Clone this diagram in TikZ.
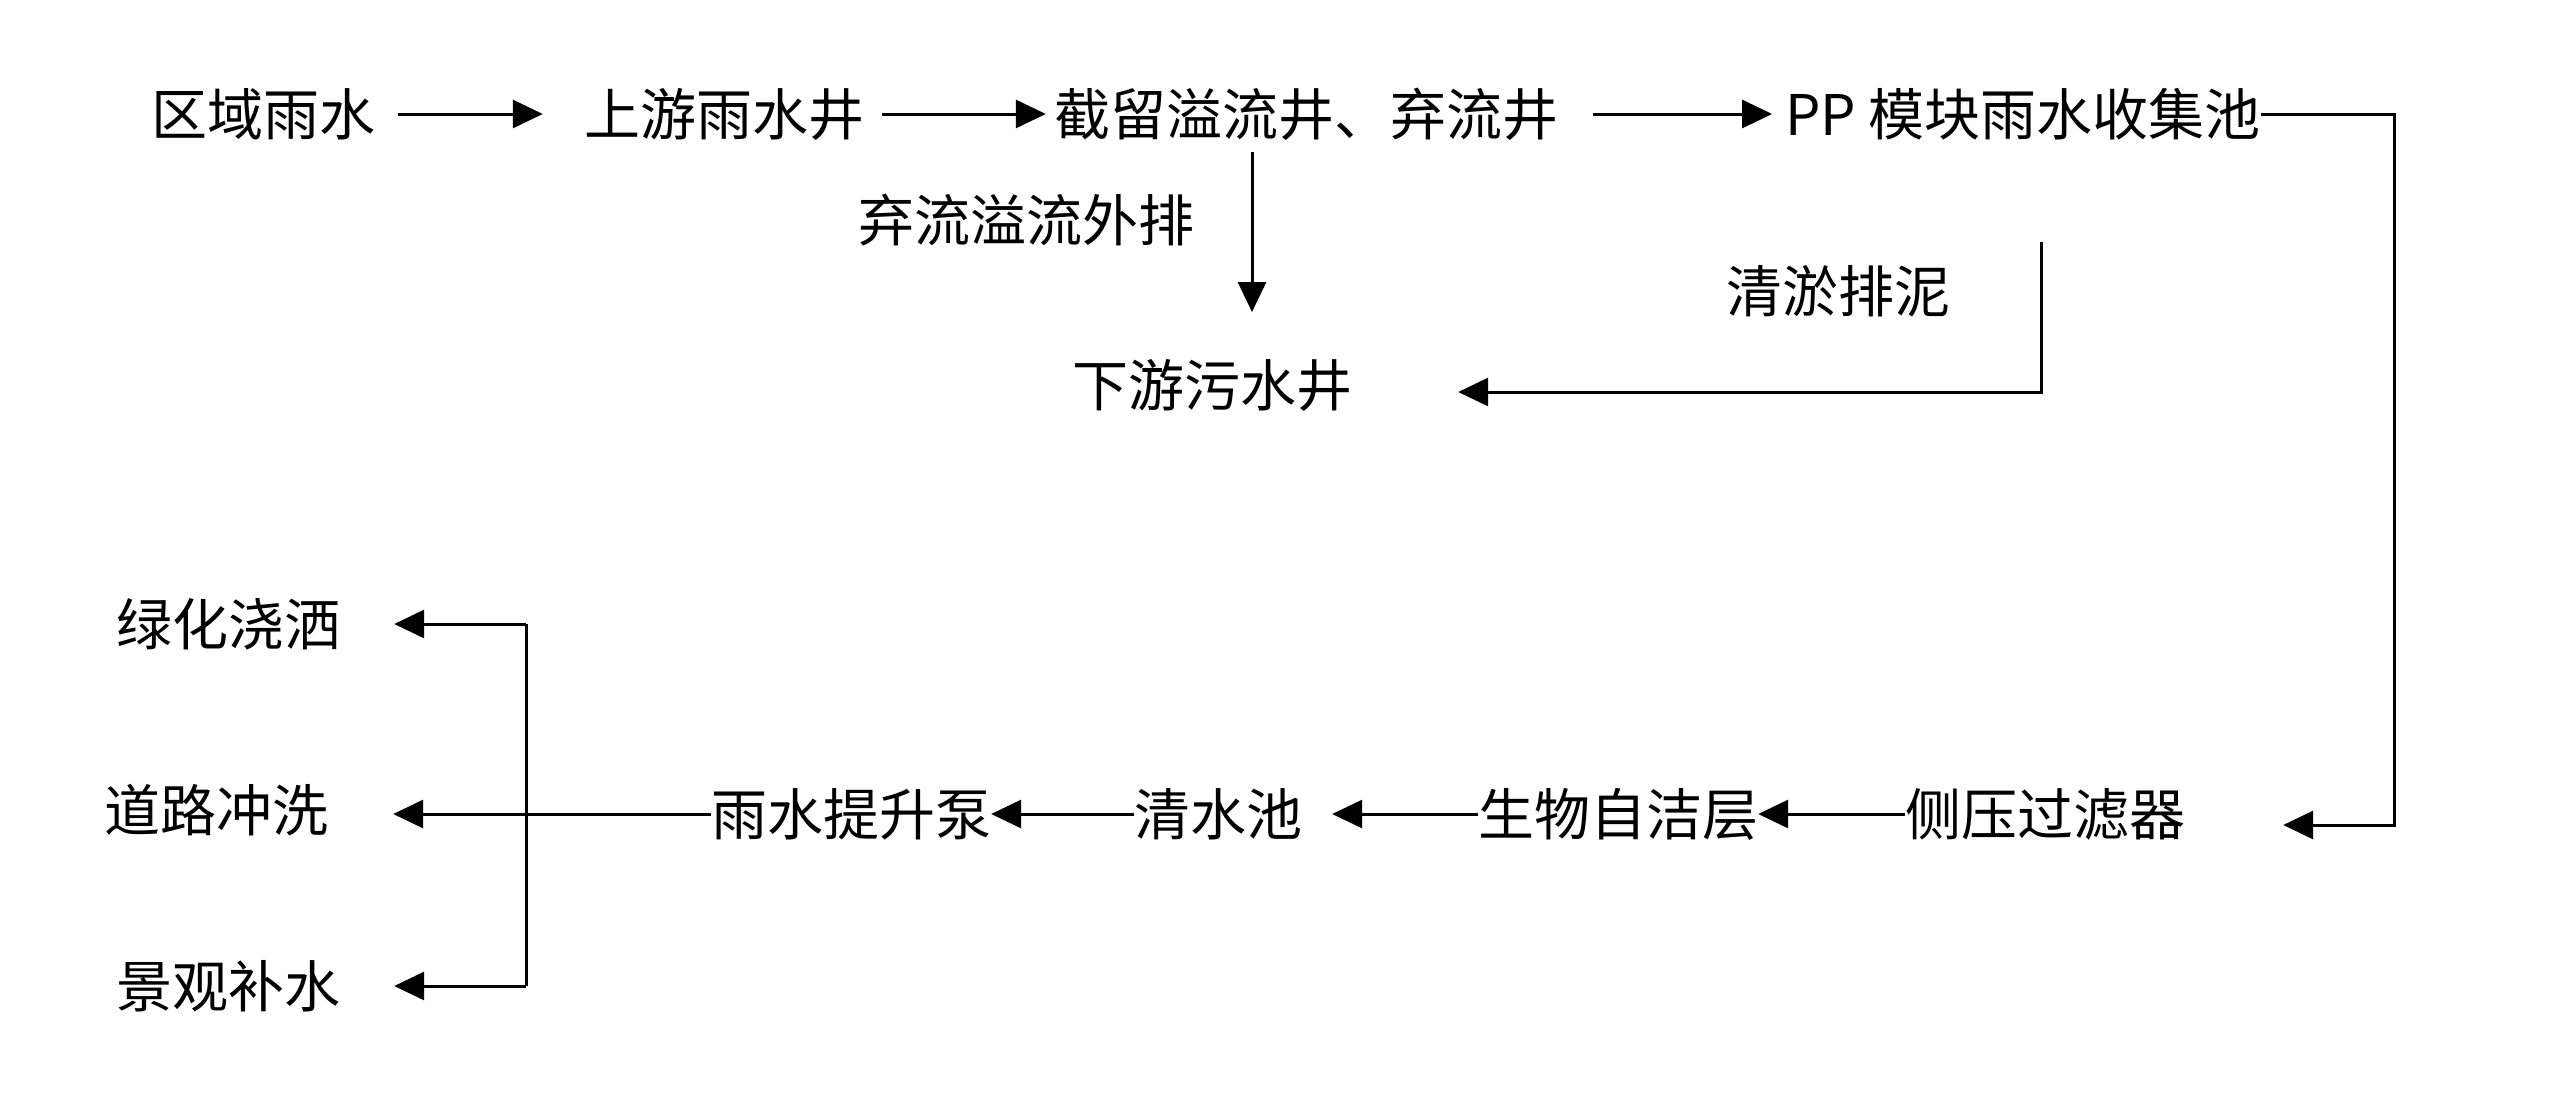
\documentclass[tikz,border=0pt]{standalone}
\usepackage{fontspec}
\setmainfont{Noto Sans CJK SC}
\usetikzlibrary{arrows.meta}
\begin{document}
\begin{tikzpicture}[x=1pt,y=-1pt,
  lbl/.style={inner sep=0pt,font=\fontsize{56}{60}\selectfont},
  flow/.style={line width=3pt,-{Triangle[length=30pt,width=28pt]}},
  plain/.style={line width=3pt}]
\useasboundingbox (0,0) rectangle (2560,1117);
\node[lbl] (n1) at (263,114) {区域雨水};
\node[lbl] (n2) at (724,114) {上游雨水井};
\node[lbl] (n3) at (1306,114) {截留溢流井、弃流井};
\node[lbl] (n4) at (2023,114) {PP 模块雨水收集池};
\node[lbl] (n5) at (2045,814) {侧压过滤器};
\node[lbl] (n6) at (1618,814) {生物自洁层};
\node[lbl] (n7) at (1218,814) {清水池};
\node[lbl] (n8) at (851,814) {雨水提升泵};
\node[lbl] (n9) at (228,624) {绿化浇洒};
\node[lbl] (n10) at (216,810) {道路冲洗};
\node[lbl] (n11) at (228,986) {景观补水};
\node[lbl] (n12) at (1212,385) {下游污水井};
\node[lbl] (t1) at (1026,220) {弃流溢流外排};
\node[lbl] (t2) at (1838,291) {清淤排泥};
\coordinate (c1) at (2394,114);
\coordinate (c2) at (2394,825);
\coordinate (c3) at (2041,242);
\coordinate (c4) at (2041,392);
\coordinate (c6) at (526,624);
\coordinate (c7) at (526,986);
\coordinate (c8) at (1252,152);
\coordinate (c9) at (1252,312);
\draw[flow] ([xshift=23pt]n1.east) -- ([xshift=-41pt]n2.west);
\draw[flow] ([xshift=18pt]n2.east) -- ([xshift=-8pt]n3.west);
\draw[flow] ([xshift=35pt]n3.east) -- ([xshift=-13pt]n4.west);
\draw[flow] (n4.east |- c1) -- (c1) -- (c2) -- ([xshift=98pt]n5.east |- c2);
\draw[flow] (n5.west) -- (n6.east);
\draw[flow] (n6.west) -- ([xshift=30pt]n7.east);
\draw[flow] (n7.west) -- (n8.east);
\draw[flow] (n8.west) -- ([xshift=65pt]n10.east |- n8.west);
\draw[plain] (c6) -- (c7);
\draw[flow] (c6) -- ([xshift=54pt]n9.east);
\draw[flow] (c7) -- ([xshift=54pt]n11.east);
\draw[flow] (c8) -- (c9);
\draw[flow] (c3) -- (c4) -- ([xshift=106pt]n12.east |- c4);
\end{tikzpicture}
\end{document}
